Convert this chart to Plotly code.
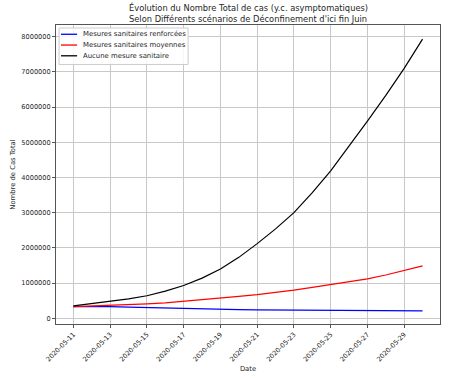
import plotly.graph_objects as go
import pandas as pd

dates = pd.date_range("2020-05-11", "2020-05-30", freq="D").strftime("%Y-%m-%d").tolist()

renforcees = [330000, 335000, 330000, 315000, 300000, 290000, 280000, 265000, 250000, 245000,
              240000, 235000, 230000, 225000, 220000, 215000, 210000, 210000, 210000, 210000]
moyennes = [330000, 345000, 360000, 385000, 410000, 440000, 480000, 520000, 570000, 620000,
            670000, 730000, 800000, 880000, 960000, 1030000, 1120000, 1230000, 1360000, 1490000]
aucune = [350000, 420000, 470000, 550000, 640000, 770000, 930000, 1140000, 1400000, 1730000,
          2120000, 2540000, 3000000, 3570000, 4190000, 4880000, 5600000, 6330000, 7100000, 7930000]

series = [
    ("Mesures sanitaires renforcées", renforcees, "#0000ff"),
    ("Mesures sanitaires moyennes", moyennes, "#ff0000"),
    ("Aucune mesure sanitaire", aucune, "#000000"),
]
title_lines = ["Évolution du Nombre Total de cas (y.c. asymptomatiques)",
               "Selon Différents scénarios de Déconfinement d'ici fin Juin"]

font = "DejaVu Sans"
txtcol = "#262626"

fig = go.Figure()
for name, vals, col in series:
    fig.add_trace(go.Scatter(x=dates, y=vals, mode="lines", name=name,
                             line=dict(color=col, width=1.2), showlegend=False))

# Compact matplotlib-style legend drawn in paper coordinates
shapes = [dict(type="rect", xref="paper", yref="paper", x0=0.008, x1=0.344, y0=0.868, y1=0.99,
               line=dict(color="#cccccc", width=1), fillcolor="rgba(255,255,255,0.85)", layer="above")]
annotations = []
row_y = [0.969, 0.933, 0.897]
for (name, vals, col), yy in zip(series, row_y):
    shapes.append(dict(type="line", xref="paper", yref="paper", x0=0.013, x1=0.055, y0=yy, y1=yy,
                       line=dict(color=col, width=1.3), layer="above"))
    annotations.append(dict(text=name, xref="paper", yref="paper", x=0.064, y=yy,
                            xanchor="left", yanchor="middle", showarrow=False,
                            font=dict(family=font, size=6.9, color=txtcol)))

# Two-line title as annotations
for line, yy in zip(title_lines, [1.060, 1.020]):
    annotations.append(dict(text=line, xref="paper", yref="paper", x=0.5, y=yy,
                            xanchor="center", yanchor="middle", showarrow=False,
                            font=dict(family=font, size=8.3, color=txtcol)))

fig.update_layout(
    width=456, height=378,
    margin=dict(l=56, r=16, t=25, b=54),
    paper_bgcolor="white", plot_bgcolor="white",
    font=dict(family=font, size=6.6, color=txtcol),
    showlegend=False,
    shapes=shapes,
    annotations=annotations,
)
fig.update_xaxes(
    type="date",
    range=["2020-05-10 01:12", "2020-05-30 22:48"],
    tickvals=dates[::2], ticktext=dates[::2],
    tickangle=-45,
    tickfont=dict(family=font, size=6.6, color=txtcol),
    showgrid=True, gridcolor="#c8c8c8", gridwidth=0.8,
    showline=True, linecolor="#555", linewidth=1, mirror=True,
    ticks="outside", ticklen=3, tickcolor="#555",
    title=dict(text="Date", font=dict(family=font, size=6.8, color=txtcol), standoff=3),
    zeroline=False, automargin=False,
)
fig.update_yaxes(
    range=[-162000, 8330000],
    tickvals=[i * 1000000 for i in range(9)],
    tickformat="d",
    tickfont=dict(family=font, size=6.6, color=txtcol),
    showgrid=True, gridcolor="#c8c8c8", gridwidth=0.8,
    showline=True, linecolor="#555", linewidth=1, mirror=True,
    ticks="outside", ticklen=3, tickcolor="#555",
    title=dict(text="Nombre de Cas Total", font=dict(family=font, size=6.8, color=txtcol), standoff=4),
    zeroline=False, automargin=False,
)

fig.write_html("out.html", config={"displayModeBar": False},
               post_script="document.body.style.margin='0';document.body.style.overflow='hidden';")
